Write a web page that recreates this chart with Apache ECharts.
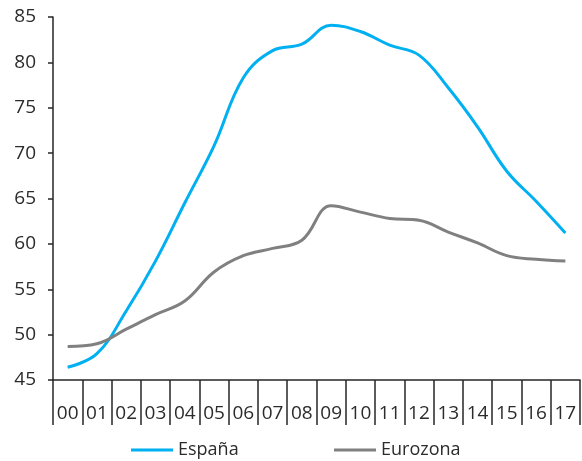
<!DOCTYPE html>
<html>
<head>
<meta charset="utf-8">
<script src="https://cdn.jsdelivr.net/npm/echarts@6/dist/echarts.min.js"></script>
<style>
  html, body { margin: 0; padding: 0; background: #fff; }
  #chart { width: 582px; height: 461px; }
</style>
</head>
<body>
<div id="chart"></div>
<script>
// Years (two-digit) on the category axis
const years = ['00','01','02','03','04','05','06','07','08','09','10','11','12','13','14','15','16','17'];

// Series values
const espana   = [46.4, 47.9, 52.6, 58.1, 64.5, 70.8, 78.3, 81.3, 82.0, 84.1, 83.4, 81.9, 80.8, 77.2, 72.9, 68.0, 64.7, 61.2];
const eurozona = [48.7, 49.0, 50.6, 52.2, 53.7, 56.9, 58.7, 59.5, 60.4, 64.2, 63.5, 62.8, 62.6, 61.3, 60.1, 58.7, 58.3, 58.1];

// Value axis range
const yMin = 45, yMax = 85, yStep = 5;

const font = '"Open Sans", "Noto Sans", sans-serif';
const axisColor = '#262626';
const textColor = '#2b2b2b';

const chart = echarts.init(document.getElementById('chart'), null, { renderer: 'canvas' });
chart.setOption({
  animation: false,
  textStyle: { fontFamily: font },
  grid: { left: 53, right: 2, top: 17, bottom: 81, containLabel: false },
  legend: [
    {
      data: ['España'], left: 131, top: 441, padding: 0, icon: 'rect',
      itemWidth: 42, itemHeight: 3, itemGap: 0,
      textStyle: { fontSize: 18, color: textColor, fontFamily: font }
    },
    {
      data: ['Eurozona'], left: 334, top: 441, padding: 0, icon: 'rect',
      itemWidth: 42, itemHeight: 3, itemGap: 0,
      textStyle: { fontSize: 18, color: textColor, fontFamily: font }
    }
  ],
  xAxis: {
    type: 'category',
    data: years,
    boundaryGap: true,
    axisLine: { lineStyle: { color: axisColor, width: 1.5 } },
    axisTick: { show: true, interval: 0, length: 45, lineStyle: { color: axisColor, width: 1.5 } },
    axisLabel: { interval: 0, margin: 24, fontSize: 19, color: textColor, fontFamily: font },
    splitLine: { show: false }
  },
  yAxis: {
    type: 'value',
    min: yMin, max: yMax, interval: yStep,
    axisLine: { show: true, lineStyle: { color: axisColor, width: 1.5 } },
    axisTick: { show: true, length: 5, lineStyle: { color: axisColor, width: 1.5 } },
    axisLabel: { margin: 17, fontSize: 19, color: textColor, fontFamily: font },
    splitLine: { show: false }
  },
  series: [
    {
      name: 'España', type: 'line', data: espana, smooth: 0.4,
      symbol: 'none', lineStyle: { color: '#00b0f0', width: 3 }, itemStyle: { color: '#00b0f0' }
    },
    {
      name: 'Eurozona', type: 'line', data: eurozona, smooth: 0.4,
      symbol: 'none', lineStyle: { color: '#808080', width: 3 }, itemStyle: { color: '#808080' }
    }
  ]
});
</script>
</body>
</html>
